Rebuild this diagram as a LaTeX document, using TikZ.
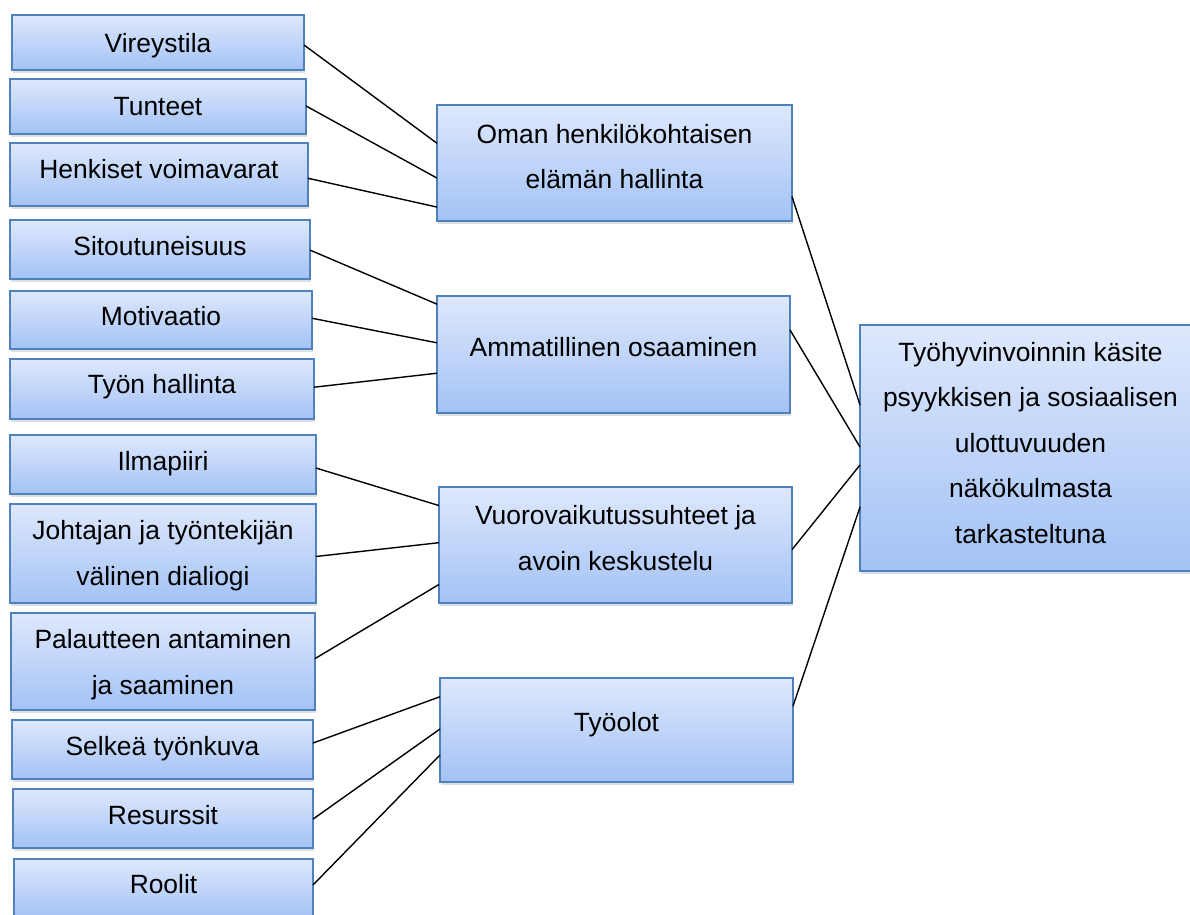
\documentclass[tikz,border=0pt]{standalone}
\usepackage{fontspec}
\setmainfont{Liberation Sans}
\usetikzlibrary{calc,shadows}

\definecolor{boxtop}{RGB}{222,232,252}
\definecolor{boxbot}{RGB}{163,194,245}
\definecolor{boxline}{RGB}{79,129,189}

\tikzset{
  box/.style={rectangle, draw=boxline, line width=1.6pt, top color=boxtop,
    bottom color=boxbot, inner sep=0pt, outer sep=0pt, anchor=north west,
    drop shadow={opacity=0.25, shadow xshift=1pt, shadow yshift=-3pt}},
  % anchor=base sits on the baseline of the last line of the text
  txt/.style={inner sep=0pt, align=center, anchor=base,
    font=\fontsize{26.4}{45.5}\selectfont},
  link/.style={draw=black, line width=1.4pt}
}

% connector from the right side of box #1 (fraction #2 down its edge)
% to the left side of box #3 (fraction #4 down its edge)
\newcommand\linkboxes[4]{%
  \draw[link] ($(#1.north east)!#2!(#1.south east)$) --
              ($(#3.north west)!#4!(#3.south west)$);}

\begin{document}
\begin{tikzpicture}[x=1pt,y=-1pt]
\useasboundingbox (0,0) rectangle (1190,914);

% ---- left column
\node[box, minimum width=292, minimum height=55] (vire) at (12,15) {};
\node[box, minimum width=296, minimum height=55] (tunt) at (10,79) {};
\node[box, minimum width=298, minimum height=63] (henk) at (10,143) {};
\node[box, minimum width=300, minimum height=59] (sito) at (10,220) {};
\node[box, minimum width=302, minimum height=58] (moti) at (10,291) {};
\node[box, minimum width=304, minimum height=60] (tyon) at (10,359) {};
\node[box, minimum width=306, minimum height=59] (ilma) at (10,435) {};
\node[box, minimum width=306, minimum height=99] (joht) at (10,504) {};
\node[box, minimum width=304, minimum height=97] (pala) at (11,613) {};
\node[box, minimum width=301, minimum height=59] (selk) at (12,720) {};
\node[box, minimum width=300, minimum height=59] (resu) at (13,789) {};
\node[box, minimum width=299, minimum height=59] (rool) at (14,859) {};

\node[txt] (vireT) at (158,52) {Vireystila};
\node[txt] (tuntT) at (158,115) {Tunteet};
\node[txt] (henkT) at (159,178) {Henkiset voimavarat};
\node[txt] (sitoT) at (160,255) {Sitoutuneisuus};
\node[txt] (motiT) at (161,325) {Motivaatio};
\node[txt] (tyonT) at (162,393) {Työn hallinta};
\node[txt] (ilmaT) at (163,470.5) {Ilmapiiri};
\node[txt] (johtT) at (163,585) {Johtajan ja työntekijän\\välinen dialiogi};
\node[txt] (palaT) at (163,694) {Palautteen antaminen\\ja saaminen};
\node[txt] (selkT) at (162.5,755) {Selkeä työnkuva};
\node[txt] (resuT) at (163,824) {Resurssit};
\node[txt] (roolT) at (163.5,893.5) {Roolit};

% ---- middle column
\node[box, minimum width=355, minimum height=116] (oman) at (437,105) {};
\node[box, minimum width=353, minimum height=117] (amma) at (437,296) {};
\node[box, minimum width=353, minimum height=116] (vuor) at (439,487) {};
\node[box, minimum width=353, minimum height=104] (tyol) at (440,678) {};

\node[txt] (omanT) at (614.5,188.5) {Oman henkilökohtaisen\\elämän hallinta};
\node[txt] (ammaT) at (613.5,356) {Ammatillinen osaaminen};
\node[txt] (vuorT) at (615.5,570) {Vuorovaikutussuhteet ja\\avoin keskustelu};
\node[txt] (tyolT) at (616.5,731.5) {Työolot};

% ---- main concept
\node[box, minimum width=341, minimum height=246] (main) at (860,325) {};
\node[txt] (mainT) at (1030.5,543) {Työhyvinvoinnin käsite\\psyykkisen ja sosiaalisen\\ulottuvuuden\\näkökulmasta\\tarkasteltuna};

% ---- connectors
\linkboxes{vire}{0.545}{oman}{0.33}
\linkboxes{tunt}{0.49}{oman}{0.63}
\linkboxes{henk}{0.56}{oman}{0.88}
\linkboxes{sito}{0.51}{amma}{0.07}
\linkboxes{moti}{0.47}{amma}{0.40}
\linkboxes{tyon}{0.47}{amma}{0.66}
\linkboxes{ilma}{0.56}{vuor}{0.16}
\linkboxes{joht}{0.53}{vuor}{0.48}
\linkboxes{pala}{0.47}{vuor}{0.84}
\linkboxes{selk}{0.39}{tyol}{0.18}
\linkboxes{resu}{0.51}{tyol}{0.49}
\linkboxes{rool}{0.44}{tyol}{0.74}

\linkboxes{oman}{0.79}{main}{0.325}
\linkboxes{amma}{0.29}{main}{0.496}
\linkboxes{vuor}{0.54}{main}{0.569}
\linkboxes{tyol}{0.27}{main}{0.740}
\end{tikzpicture}
\end{document}
